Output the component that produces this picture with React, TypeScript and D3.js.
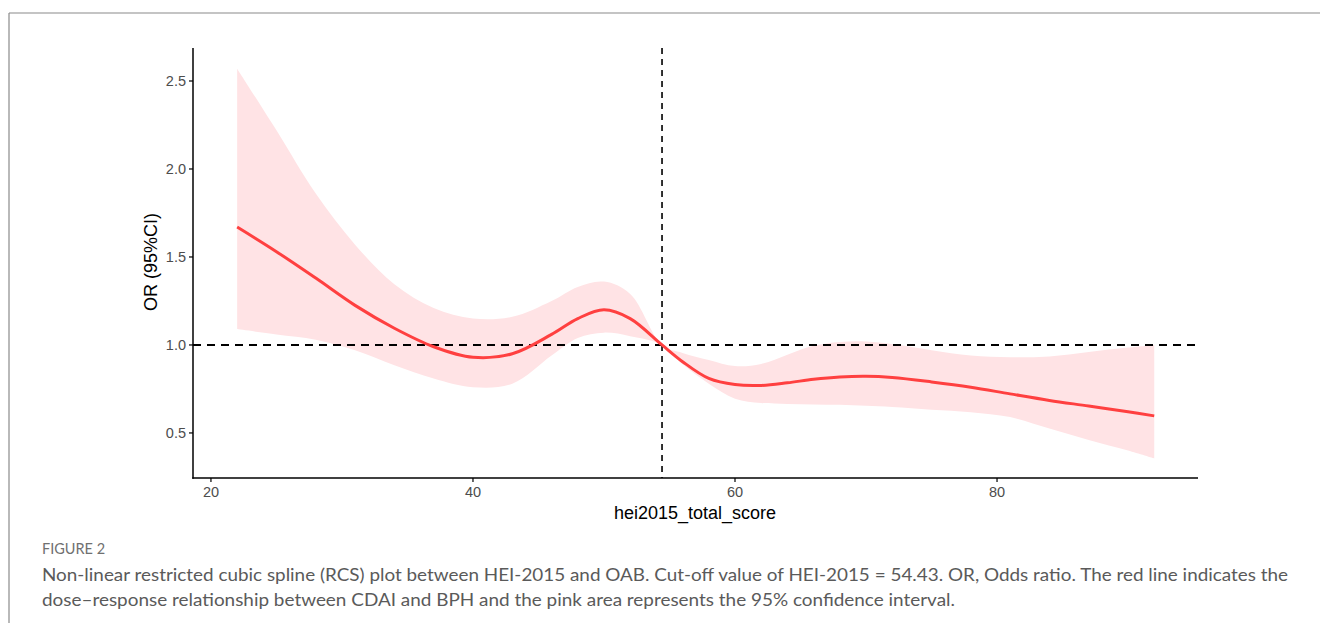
import React from "react";
import * as d3 from "d3";

const xValues = [22, 25, 28, 31, 34, 37, 40, 43, 46, 48, 50, 52, 54.43, 56, 58, 60, 62, 64, 66, 68, 70, 72, 75, 78, 81, 84, 87, 90, 92];
const orValues = [1.67, 1.53, 1.38, 1.225, 1.095, 0.99, 0.93, 0.95, 1.06, 1.15, 1.2, 1.15, 1.0, 0.905, 0.81, 0.775, 0.77, 0.785, 0.805, 0.818, 0.822, 0.815, 0.79, 0.76, 0.722, 0.685, 0.653, 0.62, 0.597];
const upperValues = [2.57, 2.22, 1.86, 1.57, 1.345, 1.21, 1.15, 1.16, 1.25, 1.33, 1.36, 1.29, 1.0, 0.955, 0.915, 0.88, 0.892, 0.945, 0.995, 1.017, 1.02, 1.005, 0.97, 0.94, 0.93, 0.935, 0.96, 0.985, 1.0];
const lowerValues = [1.09, 1.06, 1.03, 0.97, 0.885, 0.81, 0.76, 0.78, 0.94, 1.04, 1.07, 1.05, 1.0, 0.89, 0.78, 0.695, 0.67, 0.665, 0.662, 0.66, 0.655, 0.648, 0.632, 0.618, 0.59, 0.525, 0.46, 0.4, 0.355];
const xTicks = [20, 40, 60, 80];
const yTicks = [0.5, 1.0, 1.5, 2.0, 2.5];
const cutoff = 54.43;
const refOR = 1.0;
const xTitle = "hei2015_total_score";
const yTitle = "OR (95%CI)";
const figLabel = "FIGURE 2";
const captionLines = [
  "Non-linear restricted cubic spline (RCS) plot between HEI-2015 and OAB. Cut-off value of HEI-2015 = 54.43. OR, Odds ratio. The red line indicates the",
  "dose\u2013response relationship between CDAI and BPH and the pink area represents the 95% confidence interval.",
];

export default function App() {
  const W = 1320, H = 630;
  const left = 193, right = 1198, top = 48, bottom = 478;
  const x = d3.scaleLinear().domain([18.63, 95.34]).range([left, right]);
  const y = d3.scaleLinear().domain([0.244, 2.6875]).range([bottom, top]);
  const pts = xValues.map((v, i) => ({ x: v, m: orValues[i], lo: lowerValues[i], hi: upperValues[i] }));
  const curve = d3.curveCatmullRom.alpha(0.5);
  const area = d3.area<any>().x(d => x(d.x)).y0(d => y(d.lo)).y1(d => y(d.hi)).curve(curve);
  const line = d3.line<any>().x(d => x(d.x)).y(d => y(d.m)).curve(curve);
  const font = "Liberation Sans, Arial, sans-serif";
  const capFont = "Lato, 'Open Sans', sans-serif";
  const capX = 42;
  return (
    <svg width={W} height={H} style={{ position: "absolute", left: 0, top: 0, background: "#fff" }}>
      <line x1={9} y1={13} x2={1320} y2={13} stroke="#8a8a8a" strokeWidth={1.2} />
      <line x1={9} y1={13} x2={9} y2={623} stroke="#8a8a8a" strokeWidth={1.2} />
      <path d={area(pts) || ""} fill="#ffe3e5" />
      <line x1={left} x2={right} y1={y(refOR)} y2={y(refOR)} stroke="#000" strokeWidth={2} strokeDasharray="8,6" />
      <line x1={x(cutoff)} x2={x(cutoff)} y1={top} y2={bottom} stroke="#000" strokeWidth={1.6} strokeDasharray="6,5" />
      <path d={line(pts) || ""} fill="none" stroke="#ff4040" strokeWidth={3} />
      <line x1={left} x2={left} y1={top} y2={bottom + 0.75} stroke="#000" strokeWidth={1.5} />
      <line x1={left - 0.75} x2={right} y1={bottom} y2={bottom} stroke="#000" strokeWidth={1.5} />
      {yTicks.map(t => (
        <g key={"y" + t}>
          <line x1={left - 4} x2={left} y1={y(t)} y2={y(t)} stroke="#000" strokeWidth={1.2} />
          <text x={left - 7} y={y(t)} dy="0.36em" textAnchor="end" fontFamily={font} fontSize={14.5} fill="#4d4d4d">{t.toFixed(1)}</text>
        </g>
      ))}
      {xTicks.map(t => (
        <g key={"x" + t}>
          <line x1={x(t)} x2={x(t)} y1={bottom} y2={bottom + 4} stroke="#000" strokeWidth={1.2} />
          <text x={x(t)} y={bottom + 19} textAnchor="middle" fontFamily={font} fontSize={14.5} fill="#4d4d4d">{t}</text>
        </g>
      ))}
      <text x={695} y={519} textAnchor="middle" fontFamily={font} fontSize={18} fill="#000">{xTitle}</text>
      <text transform={`translate(157,262) rotate(-90)`} textAnchor="middle" fontFamily={font} fontSize={18} fill="#000">{yTitle}</text>
      <text x={capX} y={554} fontFamily={capFont} fontSize={14.5} fill="#707070">{figLabel}</text>
      <text x={capX} y={581} fontFamily={capFont} fontSize={16.5} fill="#5a5a5a" textLength={1246} lengthAdjust="spacingAndGlyphs">{captionLines[0]}</text>
      <text x={capX} y={606} fontFamily={capFont} fontSize={16.5} fill="#5a5a5a" textLength={913} lengthAdjust="spacingAndGlyphs">{captionLines[1]}</text>
    </svg>
  );
}
